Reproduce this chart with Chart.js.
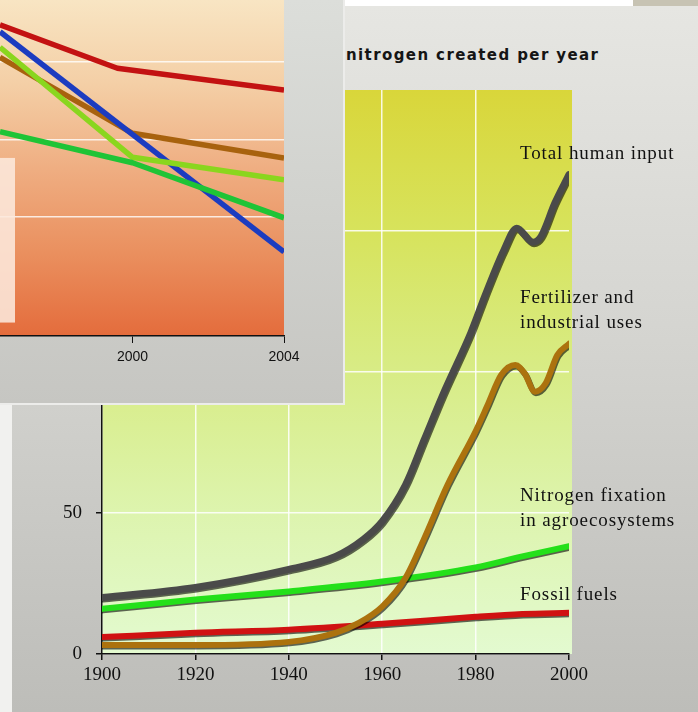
<!DOCTYPE html>
<html>
<head>
<meta charset="utf-8">
<script src="https://cdn.jsdelivr.net/npm/chart.js@4.4.1/dist/chart.umd.min.js"></script>
<style>
    html, body { margin: 0; padding: 0; }
    body { width: 698px; height: 712px; position: relative; overflow: hidden; background: #f1f1ef; }
    #franja { position: absolute; left: 345px; top: 0; width: 288px; height: 6px; background: #ffffff; }
    #franja2 { position: absolute; left: 633px; top: 0; width: 65px; height: 6px; background: #c7c3b3; }
    #tarjeta { position: absolute; left: 12px; top: 6px; width: 686px; height: 706px;
        background: linear-gradient(#e6e6e2, #d5d5d1 45%, #bdbdb9); }
    #principal { position: absolute; left: 12px; top: 6px; width: 686px; height: 706px; }
    #recuadro { position: absolute; left: 0; top: 0; width: 343px; height: 403px; z-index: 5;
        border-right: 2px solid #ececea; border-bottom: 2px solid #ececea;
        background: linear-gradient(#dcdeda, #c6c6c2); }
    #titulo { position: absolute; left: 346px; top: 46px; font-family: "DejaVu Sans", sans-serif;
        font-weight: bold; font-size: 15px; letter-spacing: 1.4px; color: #151515; white-space: nowrap; }
    .etiqueta { position: absolute; left: 520px; font-family: "Liberation Serif", serif; font-size: 19px;
        letter-spacing: 0.9px; line-height: 25px; color: #111; white-space: nowrap; }
</style>
</head>
<body>
<div id="franja"></div>
<div id="franja2"></div>
<div id="tarjeta"></div>
<div id="titulo">nitrogen created per year</div>
<div id="principal"><canvas id="graficaNitrogeno"></canvas></div>
<div class="etiqueta" style="top:140px">Total human input</div>
<div class="etiqueta" style="top:284px">Fertilizer and<br>industrial uses</div>
<div class="etiqueta" style="top:482px">Nitrogen fixation<br>in agroecosystems</div>
<div class="etiqueta" style="top:581px">Fossil fuels</div>
<div id="recuadro"><canvas id="graficaRecuadro"></canvas></div>
<script>
// Datos del gráfico principal (millones de toneladas por año)
const aniosTotal = [1900, 1920, 1940, 1950, 1956, 1960, 1965, 1969, 1973, 1979, 1982, 1986, 1988.8, 1992.3, 1994, 1997, 2000];
const totalHumano = [20, 23.6, 30, 34.6, 40.7, 47, 60, 76, 92, 114, 127, 143, 151, 146, 148, 160, 170];

const aniosFertilizante = [1900, 1920, 1940, 1950, 1955, 1960, 1965, 1969, 1974, 1980, 1982.5, 1985.5, 1988.5, 1990.5, 1992.7, 1995, 1997.5, 2000];
const fertilizante = [3.2, 3.2, 4.3, 7.5, 11, 16.8, 27, 41, 60, 79, 88, 99, 102.5, 99.5, 93, 96, 106, 110];

const aniosFijacion = [1900, 1920, 1940, 1960, 1980, 1990, 2000];
const fijacion = [16, 19.3, 22.2, 25.7, 30.7, 34.6, 38.2];

const aniosFosiles = [1900, 1920, 1940, 1960, 1980, 1990, 2000];
const fosiles = [6, 7.5, 8.6, 10.7, 13.2, 14.2, 14.6];

const ticksY = [0, 50, 100, 150, 200];
const ticksX = [1900, 1920, 1940, 1960, 1980, 2000];

// Datos del recuadro (2000-2004)
const aniosRojo = [1996.5, 1999.6, 2004];
const rojo = [4.48, 3.92, 3.64];
const aniosAzul = [1996.5, 2004];
const azul = [4.39, 1.55];
const aniosMarron = [1996.5, 2000, 2004];
const marron = [4.06, 3.08, 2.76];
const aniosVerdeClaro = [1996.5, 2000, 2004];
const verdeClaro = [4.19, 2.77, 2.48];
const aniosVerde = [1996.5, 2000, 2004];
const verde = [3.10, 2.70, 1.99];
const ticksRecuadroX = [2000, 2004];
const lineasRecuadroY = [2, 3, 4];

// Función para unir años y valores en puntos
function puntos(anios, valores) {
    return anios.map((a, i) => ({ x: a, y: valores[i] }));
}

// Función para ocultar la línea de cuadrícula del borde superior o derecho
function colorCuadricula(ctx, limite) {
    return ctx.tick && ctx.tick.value === limite ? 'rgba(0,0,0,0)' : 'rgba(255,255,255,0.85)';
}

// Plugin para pintar el fondo degradado del área de trazado
const fondoArea = {
    id: 'fondoArea',
    beforeDraw(chart, args, opts) {
        const ctx = chart.ctx;
        const a = chart.chartArea;
        const g = ctx.createLinearGradient(0, a.top, 0, a.bottom);
        opts.colores.forEach((c, i) => g.addColorStop(i / (opts.colores.length - 1), c));
        ctx.save();
        ctx.fillStyle = g;
        ctx.fillRect(a.left, a.top, a.right - a.left + (opts.extraDerecha || 0), a.bottom - a.top);
        ctx.restore();
    }
};

// Plugin para la sombra oscura de las líneas gruesas
const sombraLineas = {
    id: 'sombraLineas',
    beforeDatasetDraw(chart, args, opts) {
        if (!opts.activo) return;
        const ctx = chart.ctx;
        ctx.save();
        ctx.shadowColor = 'rgba(0,0,0,0.6)';
        ctx.shadowBlur = 0;
        ctx.shadowOffsetX = 1;
        ctx.shadowOffsetY = 1.5;
    },
    afterDatasetDraw(chart, args, opts) {
        if (!opts.activo) return;
        chart.ctx.restore();
    }
};

// Plugin para la caja de leyenda recortada del recuadro
const cajaLeyenda = {
    id: 'cajaLeyenda',
    beforeDatasetsDraw(chart, args, opts) {
        if (!opts.activo) return;
        const ctx = chart.ctx;
        const a = chart.chartArea;
        const h = a.bottom - a.top;
        ctx.save();
        ctx.fillStyle = 'rgba(252,232,220,0.88)';
        ctx.fillRect(a.left - 6, a.top + h * 0.47, 21, h * 0.49);
        ctx.restore();
    }
};

Chart.register(fondoArea, sombraLineas, cajaLeyenda);

// Gráfico principal
const ctxPrincipal = document.getElementById('graficaNitrogeno').getContext('2d');
new Chart(ctxPrincipal, {
    type: 'line',
    data: {
        datasets: [
            { label: 'Total human input', data: puntos(aniosTotal, totalHumano), borderColor: '#4a4a4a', borderWidth: 7 },
            { label: 'Fertilizer and industrial uses', data: puntos(aniosFertilizante, fertilizante), borderColor: '#ac720e', borderWidth: 6 },
            { label: 'Nitrogen fixation in agroecosystems', data: puntos(aniosFijacion, fijacion), borderColor: '#24e01a', borderWidth: 6 },
            { label: 'Fossil fuels', data: puntos(aniosFosiles, fosiles), borderColor: '#d01212', borderWidth: 6 }
        ]
    },
    options: {
        responsive: true,
        maintainAspectRatio: false,
        animation: false,
        cubicInterpolationMode: 'monotone',
        elements: { point: { radius: 0 }, line: { borderCapStyle: 'round', borderJoinStyle: 'round' } },
        layout: { padding: { left: 50, right: 129, top: 84, bottom: 18 } },
        plugins: {
            legend: { display: false },
            tooltip: { enabled: false },
            fondoArea: { colores: ['#d9d63a', '#d7e35c', '#d8ec86', '#ddf4ae', '#e3fad0'], extraDerecha: 3 },
            sombraLineas: { activo: true },
            cajaLeyenda: { activo: false }
        },
        scales: {
            x: {
                type: 'linear',
                min: 1900,
                max: 2000,
                afterFit: s => { s.height = 40; },
                afterBuildTicks: s => { s.ticks = ticksX.map(v => ({ value: v })); },
                border: { color: '#111', width: 1.5 },
                grid: { color: c => colorCuadricula(c, 2000), lineWidth: 1.5, tickColor: '#111', tickLength: 6 },
                ticks: { color: '#111', padding: 4, maxRotation: 0, callback: v => String(v),
                    font: { family: 'Liberation Serif', size: 19 } }
            },
            y: {
                min: 0,
                max: 200,
                afterFit: s => { s.width = 40; },
                afterBuildTicks: s => { s.ticks = ticksY.map(v => ({ value: v })); },
                border: { color: '#111', width: 1.5 },
                grid: { color: c => colorCuadricula(c, 200), lineWidth: 1.5, tickColor: '#111', tickLength: 6 },
                ticks: { color: '#111', padding: 14, callback: v => String(v),
                    font: { family: 'Liberation Serif', size: 19 } }
            }
        }
    }
});

// Gráfico del recuadro superior izquierdo
const ctxRecuadro = document.getElementById('graficaRecuadro').getContext('2d');
new Chart(ctxRecuadro, {
    type: 'line',
    data: {
        datasets: [
            { label: 'Verde', data: puntos(aniosVerde, verde), borderColor: '#1fc436' },
            { label: 'Verde claro', data: puntos(aniosVerdeClaro, verdeClaro), borderColor: '#8ad61e' },
            { label: 'Azul', data: puntos(aniosAzul, azul), borderColor: '#1c3cc0' },
            { label: 'Marrón', data: puntos(aniosMarron, marron), borderColor: '#a8620e' },
            { label: 'Rojo', data: puntos(aniosRojo, rojo), borderColor: '#c31212' }
        ]
    },
    options: {
        responsive: true,
        maintainAspectRatio: false,
        animation: false,
        elements: { point: { radius: 0 }, line: { borderWidth: 5.5, tension: 0, borderJoinStyle: 'round' } },
        layout: { padding: { left: 0, right: 59, top: 0, bottom: 32 } },
        plugins: {
            legend: { display: false },
            tooltip: { enabled: false },
            fondoArea: { colores: ['#f8e5c3', '#f4cfa6', '#efae82', '#ea905f', '#e46c3c'] },
            sombraLineas: { activo: false },
            cajaLeyenda: { activo: true }
        },
        scales: {
            x: {
                type: 'linear',
                min: 1996.5,
                max: 2004,
                afterFit: s => { s.height = 35; },
                afterBuildTicks: s => { s.ticks = ticksRecuadroX.map(v => ({ value: v })); },
                border: { color: '#111', width: 1.5 },
                grid: { drawOnChartArea: false, tickColor: '#111', tickLength: 7 },
                ticks: { color: '#111', padding: 6, maxRotation: 0, callback: v => String(v),
                    font: { family: 'Liberation Sans', size: 14 } }
            },
            y: {
                min: 0.465,
                max: 4.8,
                afterFit: s => { s.width = 0; },
                afterBuildTicks: s => { s.ticks = lineasRecuadroY.map(v => ({ value: v })); },
                border: { display: false },
                grid: { color: 'rgba(255,255,255,0.8)', lineWidth: 1.5, drawTicks: false },
                ticks: { display: false }
            }
        }
    }
});
</script>
</body>
</html>
